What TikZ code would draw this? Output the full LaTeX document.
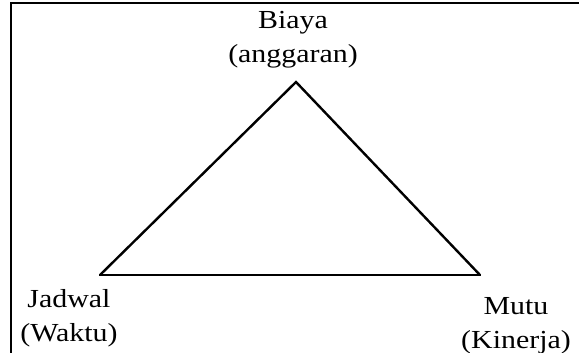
\documentclass[tikz,border=0pt]{standalone}
\usepackage{fontspec}
\setmainfont{Liberation Serif}
\usepackage{tikz}
\usetikzlibrary{positioning}
\definecolor{trink}{HTML}{000000}
\tikzset{
  trlabel/.style={align=center, inner sep=0pt, xscale=1.15,
                  font=\fontsize{26}{34}\selectfont, text=trink},
  trside/.style={draw=trink, line width=2.4pt, line cap=round},
  trbase/.style={draw=trink, line width=1.6pt},
  trframe/.style={draw=trink, line width=2pt},
}
\begin{document}
\begin{tikzpicture}[x=1pt,y=-1pt]
  \useasboundingbox (0,0) rectangle (579,353);
  % frame: top and left only
  \coordinate (fa) at (579,3);
  \coordinate (fb) at (11,3);
  \coordinate (fc) at (11,353);
  \draw[trframe] (fa) -- (fb) -- (fc);
  % triangle corners
  \coordinate (apex) at (296,82);
  \coordinate (kiri) at (100,275);
  \coordinate (kanan) at (480,275);
  \draw[trside] (kiri) -- (apex) -- (kanan);
  \draw[trbase] (kiri) -- (kanan);
  % labels
  \node[trlabel] (biaya) at (293,40) {Biaya\\(anggaran)};
  \node[trlabel] (jadwal) at (69,318) {Jadwal\\(Waktu)};
  \node[trlabel] (mutu) at (516,326) {Mutu\\(Kinerja)};
\end{tikzpicture}
\end{document}
